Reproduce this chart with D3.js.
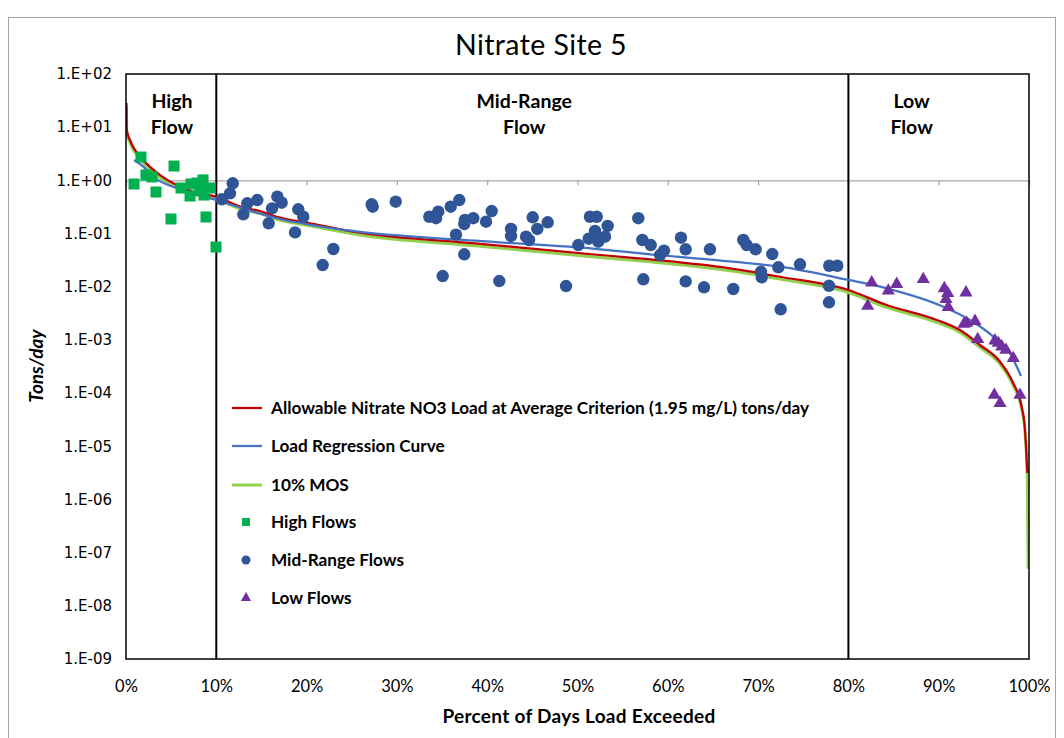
<!DOCTYPE html>
<html>
<head>
<meta charset="utf-8">
<script src="https://cdn.jsdelivr.net/npm/d3@7"></script>
<style>
  html, body { margin: 0; padding: 0; background: #fff; }
  svg { display: block; }
  text { font-family: Lato, "Open Sans", sans-serif; fill: #000; }
</style>
</head>
<body>
<svg id="chart" width="1064" height="738"></svg>
<script>
// Load duration curve, Nitrate Site 5 (x = percent of days load exceeded, y = tons/day)

const allowablePct = [0.05, 0.08, 0.44, 1.92, 3.77, 5.61, 7.45, 9.97, 12.99, 14.84, 16.69, 20.38, 25.91, 38.65, 52.49, 58.77, 66.89, 72.43, 79.99, 84.24, 89.78, 92.36, 94.57, 96.79, 98.26, 99.19, 99.56, 99.81];
const allowableLoad = [28.5, 8.85, 5.74, 2.41, 1.26, 0.818, 0.612, 0.493, 0.309, 0.265, 0.207, 0.156, 0.104, 0.0655, 0.0395, 0.0318, 0.0222, 0.0154, 0.00867, 0.00453, 0.00237, 0.00153, 0.000802, 0.000389, 0.000153, 5.55e-5, 2.02e-5, 3.14e-6];

const mosPct = [0.05, 0.08, 0.44, 1.92, 3.77, 5.61, 7.45, 9.97, 12.99, 14.84, 16.69, 20.38, 25.91, 38.65, 52.49, 58.77, 66.89, 72.43, 79.99, 84.24, 89.78, 92.36, 94.57, 96.79, 98.26, 99.19, 99.56, 99.81, 99.9];
const mosLoad = [25.6, 7.97, 5.17, 2.17, 1.13, 0.736, 0.551, 0.444, 0.278, 0.239, 0.186, 0.140, 0.0936, 0.0590, 0.0356, 0.0286, 0.0200, 0.0139, 0.0078, 0.00408, 0.00213, 0.00138, 0.000722, 0.000350, 0.000138, 5.0e-5, 1.82e-5, 2.83e-6, 5e-8];

const regressionPct = [0.89, 1.92, 3.02, 5.61, 9.97, 16.69, 24.81, 38.65, 52.49, 58.77, 67.25, 72.43, 79.99, 84.24, 90.51, 93.47, 96.05, 97.90, 99.11];
const regressionLoad = [2.41, 1.81, 1.17, 0.709, 0.427, 0.194, 0.113, 0.0733, 0.0506, 0.0395, 0.0295, 0.0238, 0.0134, 0.00933, 0.00421, 0.00237, 0.00115, 0.00056, 0.00021];

const highPct = [0.89, 1.66, 2.21, 2.88, 3.32, 4.98, 5.32, 6.09, 7.20, 7.09, 7.86, 8.53, 8.64, 8.86, 9.30, 9.97, 8.20];
const highLoad = [0.855, 2.75, 1.26, 1.16, 0.604, 0.188, 1.86, 0.718, 0.855, 0.508, 0.89, 1.02, 0.53, 0.205, 0.718, 0.0558, 0.66];

const midPct = [10.60, 11.52, 11.82, 12.99, 13.43, 14.54, 15.80, 16.17, 16.76, 17.24, 18.72, 19.08, 19.63, 21.78, 22.96, 27.21, 27.32, 29.87, 33.59, 34.33, 34.58, 35.07, 35.96, 36.54, 36.91, 37.46, 37.54, 37.46, 38.46, 39.87, 40.50, 41.34, 42.64, 42.64, 44.30, 44.63, 45.04, 45.55, 46.70, 48.73, 50.09, 51.38, 52.13, 51.94, 51.24, 52.30, 53.34, 53.05, 56.73, 57.18, 57.29, 58.11, 59.14, 59.58, 61.46, 61.98, 61.98, 64.01, 64.67, 67.25, 68.36, 68.74, 69.73, 70.32, 70.40, 71.57, 72.24, 72.50, 74.64, 77.85, 77.85, 77.88, 78.77];
const midLoad = [0.441, 0.571, 0.881, 0.230, 0.371, 0.427, 0.156, 0.298, 0.493, 0.380, 0.105, 0.286, 0.207, 0.0256, 0.0512, 0.355, 0.320, 0.397, 0.207, 0.194, 0.258, 0.0159, 0.320, 0.0951, 0.427, 0.151, 0.180, 0.0407, 0.194, 0.167, 0.265, 0.0128, 0.122, 0.090, 0.0873, 0.0756, 0.202, 0.122, 0.163, 0.0103, 0.0608, 0.207, 0.207, 0.112, 0.080, 0.0703, 0.139, 0.0873, 0.194, 0.0756, 0.0138, 0.0608, 0.0394, 0.0476, 0.0835, 0.0506, 0.0126, 0.00975, 0.0506, 0.00906, 0.0756, 0.0608, 0.0506, 0.0191, 0.0150, 0.0412, 0.0232, 0.00376, 0.0264, 0.0104, 0.0051, 0.0248, 0.0248];

const lowPct = [82.14, 82.58, 84.42, 85.35, 88.29, 90.62, 91.00, 90.81, 91.06, 93.02, 92.80, 93.10, 94.02, 94.32, 96.23, 96.60, 96.98, 97.45, 98.26, 96.16, 96.79, 99.00];
const lowLoad = [0.00434, 0.0119, 0.00841, 0.0112, 0.0138, 0.00933, 0.00752, 0.00580, 0.00410, 0.00772, 0.00199, 0.00208, 0.00226, 0.00103, 0.000966, 0.000875, 0.000745, 0.000646, 0.000451, 0.0000920, 0.0000643, 0.0000920];

const yTickValues = [1e-9, 1e-8, 1e-7, 1e-6, 1e-5, 1e-4, 1e-3, 1e-2, 1e-1, 1e0, 1e1, 1e2];
const yTickLabels = ["1.E-09", "1.E-08", "1.E-07", "1.E-06", "1.E-05", "1.E-04", "1.E-03", "1.E-02", "1.E-01", "1.E+00", "1.E+01", "1.E+02"];
const xTickValues = [0, 10, 20, 30, 40, 50, 60, 70, 80, 90, 100];
const xTickLabels = ["0%", "10%", "20%", "30%", "40%", "50%", "60%", "70%", "80%", "90%", "100%"];

const flowZoneBounds = [10, 80];
const flowZoneLabels = [
  { center: 5.1, lines: ["High", "Flow"] },
  { center: 44.1, lines: ["Mid-Range", "Flow"] },
  { center: 87.0, lines: ["Low", "Flow"] }
];

const legendLabels = [
  "Allowable Nitrate NO3 Load at Average Criterion (1.95 mg/L) tons/day",
  "Load Regression Curve",
  "10% MOS",
  "High Flows",
  "Mid-Range Flows",
  "Low Flows"
];

const colors = {
  allowable: "#c00000",
  regression: "#4472c4",
  mos: "#92d050",
  high: "#00b050",
  mid: "#2f5597",
  low: "#7030a0"
};

const svg = d3.select("#chart");
const plot = { left: 126, right: 1029, top: 74, bottom: 659 };

const x = d3.scaleLinear().domain([0, 100]).range([plot.left, plot.right]);
const y = d3.scaleLog().domain([1e-9, 1e2]).range([plot.bottom, plot.top]);

// outer chart frame
svg.append("rect")
  .attr("x", 8.5).attr("y", 17.5)
  .attr("width", 1047).attr("height", 740)
  .attr("fill", "#fff").attr("stroke", "#a6a6a6").attr("stroke-width", 1);

// title
svg.append("text")
  .attr("x", 541).attr("y", 55)
  .attr("text-anchor", "middle")
  .style("font-size", "28.5px")
  .style("letter-spacing", "0.4px")
  .text("Nitrate Site 5");

// clip for plotted series
svg.append("defs").append("clipPath").attr("id", "plotClip")
  .append("rect")
  .attr("x", plot.left).attr("y", plot.top)
  .attr("width", plot.right - plot.left).attr("height", plot.bottom - plot.top);

// horizontal axis line crossing at 1.E+00 with tick marks
const crossAxis = svg.append("g")
  .attr("transform", `translate(0,${y(1)})`)
  .call(d3.axisBottom(x).tickValues(xTickValues).tickSize(5).tickFormat(""));
crossAxis.select(".domain").attr("stroke", "#a6a6a6").attr("stroke-width", 1.2);
crossAxis.selectAll(".tick line").attr("stroke", "#a6a6a6").attr("stroke-width", 1.2);

// y axis labels
const yAxis = svg.append("g")
  .attr("transform", `translate(${plot.left},0)`)
  .call(d3.axisLeft(y).tickValues(yTickValues).tickSize(0).tickPadding(14)
    .tickFormat((d, i) => yTickLabels[i]));
yAxis.select(".domain").remove();
yAxis.selectAll("text")
  .style("font-family", "'DejaVu Sans', sans-serif")
  .style("font-size", "15px").attr("fill", "#000");

// x axis labels
const xAxis = svg.append("g")
  .attr("transform", `translate(0,${plot.bottom})`)
  .call(d3.axisBottom(x).tickValues(xTickValues).tickSize(0).tickPadding(21)
    .tickFormat((d, i) => xTickLabels[i]));
xAxis.select(".domain").remove();
xAxis.selectAll("text")
  .style("font-family", "Lato, sans-serif")
  .style("font-size", "16.5px").attr("fill", "#000");

// axis titles
svg.append("text")
  .attr("x", 579).attr("y", 723)
  .attr("text-anchor", "middle")
  .style("font-size", "19px").style("font-weight", "bold")
  .style("letter-spacing", "0.3px")
  .text("Percent of Days Load Exceeded");

svg.append("text")
  .attr("transform", `translate(43,366) rotate(-90)`)
  .attr("text-anchor", "middle")
  .style("font-size", "19px").style("font-weight", "bold").style("font-style", "italic")
  .text("Tons/day");

// flow zone dividers
svg.append("g").selectAll("line")
  .data(flowZoneBounds).join("line")
  .attr("x1", d => x(d)).attr("x2", d => x(d))
  .attr("y1", plot.top).attr("y2", plot.bottom)
  .attr("stroke", "#000").attr("stroke-width", 2);

// flow zone labels
const zoneG = svg.append("g");
flowZoneLabels.forEach(z => {
  z.lines.forEach((t, i) => {
    zoneG.append("text")
      .attr("x", x(z.center)).attr("y", 108 + i * 26)
      .attr("text-anchor", "middle")
      .style("font-size", "19.5px").style("font-weight", "bold")
      .text(t);
  });
});

// curves
const series = svg.append("g").attr("clip-path", "url(#plotClip)");
const line = d3.line().x(d => x(d[0])).y(d => y(d[1])).curve(d3.curveMonotoneX);

series.append("path")
  .datum(d3.zip(mosPct, mosLoad))
  .attr("d", line).attr("fill", "none")
  .attr("stroke", colors.mos).attr("stroke-width", 3);

series.append("path")
  .datum(d3.zip(allowablePct, allowableLoad))
  .attr("d", line).attr("fill", "none")
  .attr("stroke", colors.allowable).attr("stroke-width", 2.25);

series.append("path")
  .datum(d3.zip(regressionPct, regressionLoad))
  .attr("d", line).attr("fill", "none")
  .attr("stroke", colors.regression).attr("stroke-width", 2.25);

// observed loads by flow regime
const pts = svg.append("g");
const sq = 11;
pts.selectAll("rect.high")
  .data(d3.zip(highPct, highLoad)).join("rect")
  .attr("class", "high")
  .attr("x", d => x(d[0]) - sq / 2).attr("y", d => y(d[1]) - sq / 2)
  .attr("width", sq).attr("height", sq)
  .attr("fill", colors.high);

pts.selectAll("circle.mid")
  .data(d3.zip(midPct, midLoad)).join("circle")
  .attr("class", "mid")
  .attr("cx", d => x(d[0])).attr("cy", d => y(d[1])).attr("r", 6.2)
  .attr("fill", colors.mid);

const tri = d3.symbol().type(d3.symbolTriangle).size(75);
pts.selectAll("path.low")
  .data(d3.zip(lowPct, lowLoad)).join("path")
  .attr("class", "low")
  .attr("transform", d => `translate(${x(d[0])},${y(d[1])})`)
  .attr("d", tri)
  .attr("fill", colors.low);

// plot frame
svg.append("rect")
  .attr("x", plot.left).attr("y", plot.top)
  .attr("width", plot.right - plot.left).attr("height", plot.bottom - plot.top)
  .attr("fill", "none").attr("stroke", "#000").attr("stroke-width", 1.5);

// legend
const legend = svg.append("g").attr("transform", "translate(232,0)");
const legendRows = [408, 446, 485, 522, 560, 598];
legendLabels.forEach((label, i) => {
  const g = legend.append("g").attr("transform", `translate(0,${legendRows[i]})`);
  if (i < 3) {
    const c = [colors.allowable, colors.regression, colors.mos][i];
    g.append("line").attr("x1", 0).attr("x2", 30).attr("y1", 0).attr("y2", 0)
      .attr("stroke", c).attr("stroke-width", i === 2 ? 3 : 2.25);
  } else if (i === 3) {
    g.append("rect").attr("x", 10).attr("y", -4).attr("width", 8).attr("height", 8)
      .attr("fill", colors.high);
  } else if (i === 4) {
    g.append("circle").attr("cx", 14).attr("cy", 0).attr("r", 4.5).attr("fill", colors.mid);
  } else {
    g.append("path").attr("transform", "translate(14,0)")
      .attr("d", d3.symbol().type(d3.symbolTriangle).size(45)).attr("fill", colors.low);
  }
  g.append("text").attr("x", 39).attr("y", 6)
    .style("font-size", "17.2px").style("font-weight", "bold")
    .text(label);
});
</script>
</body>
</html>
